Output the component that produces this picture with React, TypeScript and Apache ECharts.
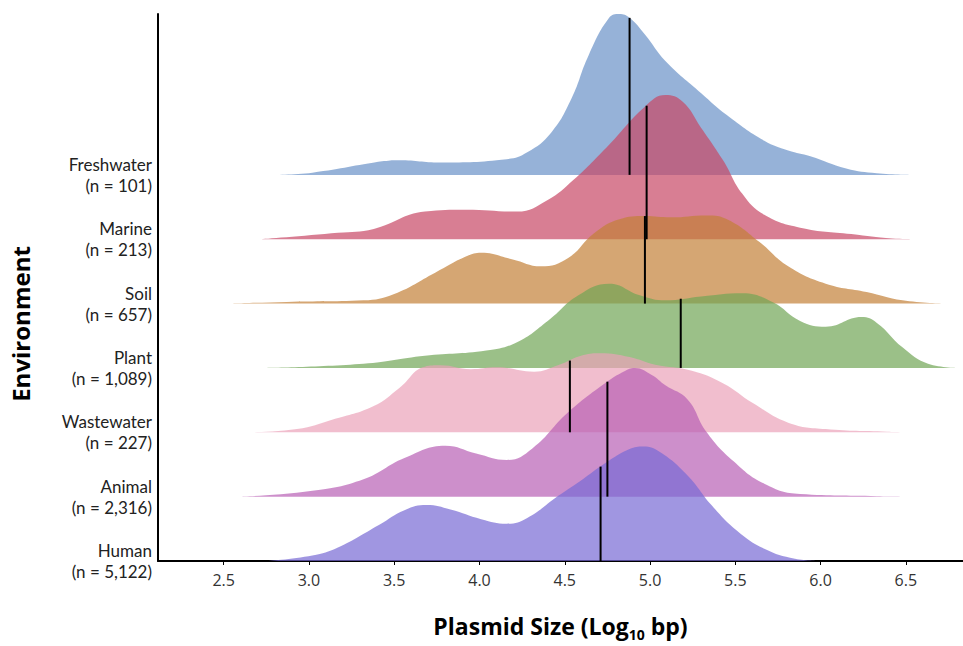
import React, { useEffect, useRef } from "react";
import * as echarts from "echarts";

// Environments, top row first
const environments = ["Freshwater", "Marine", "Soil", "Plant", "Wastewater", "Animal", "Human"];
const counts = ["101", "213", "657", "1,089", "227", "2,316", "5,122"];
const colors = ["#6a92c7", "#c74765", "#c38038", "#70a555", "#eba2b9", "#b85fb5", "#7769d4"];

// density estimates: x = log10 bp, y = density (in row-spacing units)
const freshwaterX = [2.78, 3.02, 3.44, 3.53, 3.77, 4.16, 4.28, 4.42, 4.54, 4.64, 4.76, 4.82, 4.88, 4.97, 5.09, 5.3, 5.45, 5.67, 5.81, 5.94, 6.15, 6.33, 6.54];
const freshwaterY = [0, 0.035, 0.214, 0.229, 0.194, 0.244, 0.351, 0.656, 1.19, 1.86, 2.44, 2.5, 2.44, 2.18, 1.77, 1.27, 0.93, 0.53, 0.38, 0.29, 0.1, 0.026, 0];
const marineX = [2.72, 3.17, 3.38, 3.68, 3.92, 4.22, 4.4, 4.55, 4.76, 4.97, 5.09, 5.19, 5.3, 5.43, 5.54, 5.67, 5.88, 6.18, 6.42, 6.54];
const marineY = [0, 0.1, 0.16, 0.43, 0.46, 0.43, 0.61, 0.92, 1.47, 2.06, 2.24, 2.14, 1.73, 1.22, 0.71, 0.38, 0.18, 0.08, 0.01, 0];
const soilX = [2.51, 2.87, 3.32, 3.5, 3.74, 3.92, 4.01, 4.19, 4.36, 4.52, 4.67, 4.82, 4.97, 5.12, 5.33, 5.46, 5.64, 5.81, 6.03, 6.27, 6.48, 6.72];
const soilY = [0, 0.026, 0.05, 0.15, 0.48, 0.73, 0.79, 0.69, 0.58, 0.71, 1.09, 1.31, 1.36, 1.34, 1.37, 1.3, 0.96, 0.58, 0.31, 0.18, 0.05, 0];
const plantX = [2.72, 3.32, 3.68, 4.04, 4.22, 4.4, 4.58, 4.76, 4.94, 5.09, 5.3, 5.54, 5.72, 5.88, 6.03, 6.24, 6.33, 6.48, 6.63, 6.81];
const plantY = [0, 0.066, 0.19, 0.27, 0.4, 0.73, 1.13, 1.31, 1.13, 1.05, 1.11, 1.16, 1.02, 0.73, 0.64, 0.79, 0.7, 0.32, 0.066, 0];
const wastewaterX = [2.66, 2.93, 3.14, 3.38, 3.53, 3.68, 3.77, 3.95, 4.1, 4.32, 4.46, 4.61, 4.71, 4.88, 5.03, 5.24, 5.43, 5.6, 5.81, 6.03, 6.39, 6.54];
const wastewaterY = [0, 0.05, 0.2, 0.41, 0.69, 1.02, 1.04, 0.98, 1.01, 0.94, 1.04, 1.2, 1.23, 1.17, 1.05, 0.96, 0.76, 0.46, 0.15, 0.05, 0.01, 0];
const animalX = [2.6, 3.02, 3.32, 3.56, 3.8, 3.98, 4.16, 4.31, 4.52, 4.74, 4.85, 4.91, 5.01, 5.09, 5.22, 5.33, 5.49, 5.67, 5.88, 6.33, 6.54];
const animalY = [0, 0.09, 0.27, 0.6, 0.79, 0.67, 0.57, 0.75, 1.31, 1.77, 1.95, 2.0, 1.89, 1.73, 1.51, 1.01, 0.55, 0.2, 0.04, 0.008, 0];
const humanX = [2.75, 3.02, 3.17, 3.41, 3.56, 3.69, 3.83, 4.01, 4.16, 4.28, 4.46, 4.61, 4.76, 4.88, 4.96, 5.06, 5.22, 5.36, 5.51, 5.67, 5.85, 6.0];
const humanY = [0, 0.087, 0.21, 0.56, 0.79, 0.87, 0.8, 0.65, 0.58, 0.67, 1.01, 1.28, 1.56, 1.74, 1.78, 1.69, 1.33, 0.87, 0.47, 0.19, 0.035, 0];

const medians = [4.88, 4.98, 4.97, 5.18, 4.53, 4.75, 4.71];

const xTickLabels = ["2.5", "3.0", "3.5", "4.0", "4.5", "5.0", "5.5", "6.0", "6.5"];

const densX = [freshwaterX, marineX, soilX, plantX, wastewaterX, animalX, humanX];
const densY = [freshwaterY, marineY, soilY, plantY, wastewaterY, animalY, humanY];

const FONT = "'Open Sans', 'Noto Sans', sans-serif";
const LABEL_FONT = "Lato, 'Open Sans', sans-serif";

function interp(xs: number[], ys: number[], x: number) {
  for (let i = 0; i < xs.length - 1; i++) {
    if (x >= xs[i] && x <= xs[i + 1]) {
      const t = (x - xs[i]) / (xs[i + 1] - xs[i]);
      return ys[i] + t * (ys[i + 1] - ys[i]);
    }
  }
  return 0;
}

export default function App() {
  const ref = useRef<HTMLDivElement>(null);
  useEffect(() => {
    const chart = echarts.init(ref.current!, undefined, { renderer: "svg" });
    const n = environments.length;
    const series: any[] = [];
    environments.forEach((name, i) => {
      const base = n - 1 - i;
      series.push({
        type: "line",
        name,
        data: densX[i].map((x, k) => [x, base + densY[i][k]]),
        smooth: 0.45,
        symbol: "none",
        lineStyle: { width: 0, opacity: 0 },
        areaStyle: { color: colors[i], opacity: 0.7, origin: base },
        silent: true,
      });
      const h = interp(densX[i], densY[i], medians[i]);
      series.push({
        type: "line",
        name: name + " median",
        data: [
          [medians[i], base],
          [medians[i], base + h],
        ],
        symbol: "none",
        lineStyle: { color: "#000", width: 2 },
        silent: true,
      });
    });

    const rowLabel = (v: number, fn: (i: number) => string) => {
      const i = n - 1 - Math.round(v);
      if (Math.abs(v - Math.round(v)) > 1e-6 || i < 0 || i >= n) return "";
      return fn(i);
    };
    const yBase = {
      type: "value",
      min: 0,
      max: 8.5,
      interval: 1,
      position: "left",
      axisTick: { show: false },
      splitLine: { show: false },
    };
    const yLabelStyle = {
      showMaxLabel: false,
      margin: 6,
      fontSize: 17,
      color: "#222",
      fontFamily: LABEL_FONT,
      lineHeight: 17,
    };

    chart.setOption({
      animation: false,
      grid: { left: 158, right: 0, top: 14, bottom: 75 },
      xAxis: {
        type: "value",
        min: 2.115,
        max: 6.835,
        splitNumber: 9,
        axisLine: { show: true, lineStyle: { color: "#000", width: 2 } },
        axisTick: { show: true, length: 4, lineStyle: { color: "#000", width: 1 } },
        splitLine: { show: false },
        axisLabel: {
          showMinLabel: false,
          showMaxLabel: false,
          margin: 11,
          fontSize: 16,
          color: "#333",
          fontFamily: FONT,
          formatter: (v: number) => {
            const idx = Math.round((v - 2.5) / 0.5);
            return Math.abs(v - (2.5 + idx * 0.5)) < 1e-6 ? xTickLabels[idx] ?? "" : "";
          },
        },
        name: "{b|Plasmid Size (Log}{s|10}{b| bp)}",
        nameLocation: "middle",
        nameGap: 50,
        nameTextStyle: {
          rich: {
            b: { fontSize: 23, fontWeight: "bold", fontFamily: FONT, color: "#000", lineHeight: 30 },
            s: { fontSize: 14, fontWeight: "bold", fontFamily: FONT, color: "#000", verticalAlign: "bottom", lineHeight: 16, padding: [10, 0, 0, 0] },
          },
        },
      },
      yAxis: [
        {
          ...yBase,
          axisLine: { show: true, onZero: false, lineStyle: { color: "#000", width: 2 } },
          axisLabel: {
            ...yLabelStyle,
            verticalAlign: "bottom",
            padding: [0, 0, 2, 0],
            formatter: (v: number) => rowLabel(v, (i) => environments[i]),
          },
        },
        {
          ...yBase,
          axisLine: { show: false },
          axisLabel: {
            ...yLabelStyle,
            verticalAlign: "top",
            padding: [2, 0, 0, 0],
            formatter: (v: number) => rowLabel(v, (i) => "(n = " + counts[i] + ")"),
          },
        },
      ],
      graphic: [
        {
          type: "text",
          x: 20,
          y: 324,
          rotation: Math.PI / 2,
          style: {
            text: "Environment",
            font: "bold 24px " + FONT,
            fill: "#000",
            textAlign: "center",
            textVerticalAlign: "middle",
          },
        },
      ],
      series,
    });
    return () => chart.dispose();
  }, []);
  return <div ref={ref} style={{ width: 963, height: 646, position: "absolute", left: 0, top: 0 }} />;
}
